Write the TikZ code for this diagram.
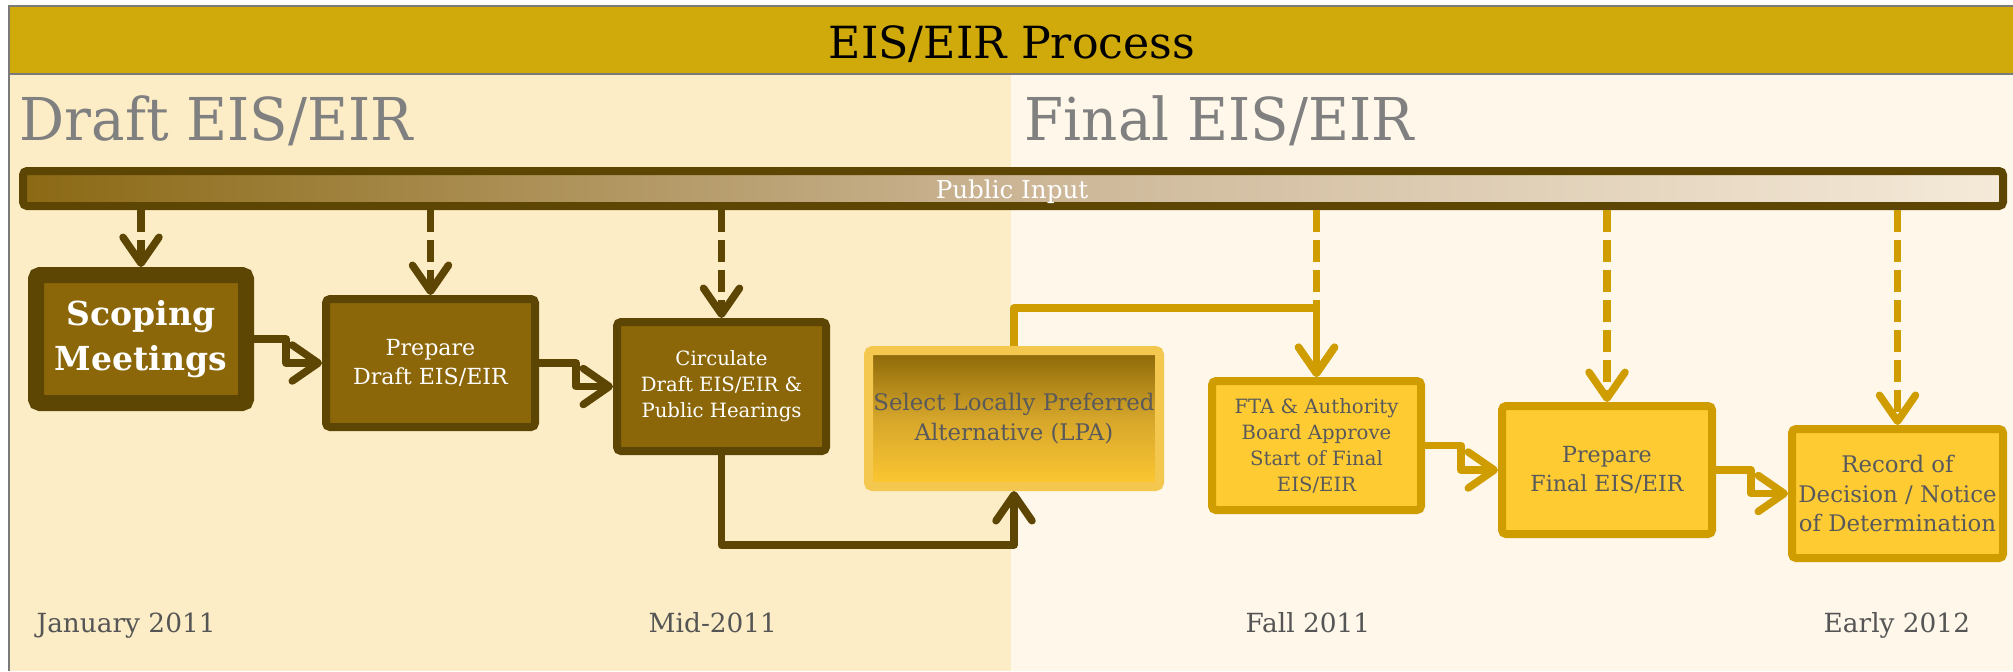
\documentclass[tikz,border=0pt]{standalone}
\usepackage{fontspec}
\setmainfont{DejaVu Serif}
\newfontfamily\headfont[FakeStretch=0.953]{DejaVu Serif}
\usetikzlibrary{arrows.meta}
\definecolor{titlegold}{HTML}{D0A90A}
\definecolor{draftbg}{HTML}{FCEDC7}
\definecolor{finalbg}{HTML}{FFF8EA}
\definecolor{dkline}{HTML}{5D4604}
\definecolor{dkfill}{HTML}{8B6709}
\definecolor{gdline}{HTML}{CF9D00}
\definecolor{gdfill}{HTML}{FFCB33}
\definecolor{lpaline}{HTML}{F4C84E}
\definecolor{boxtext}{HTML}{58595B}
\definecolor{headgray}{HTML}{808080}
\definecolor{dategray}{HTML}{555555}
\definecolor{framegray}{HTML}{7A7A7A}
\definecolor{barleft}{HTML}{8B6914}
\definecolor{barmid}{HTML}{CBB595}
\definecolor{barright}{HTML}{F5EAD9}
\definecolor{lpatop}{HTML}{8B6708}
\definecolor{lpamid}{HTML}{D6A62B}
\definecolor{lpabot}{HTML}{FDC832}
\begin{document}
\begin{tikzpicture}[x=0.1mm,y=-0.1mm]
\tikzset{
  lnk/.style={line width=0.75mm, line join=round, -{Straight Barb[length=2.6mm,width=3.6mm,round]}},
  dsh/.style={dash pattern=on 2.2mm off 0.8mm},
  anybox/.style={line width=0.8mm, rounded corners=0.4mm, align=center, inner sep=0pt,
    font=\fontsize{6.3pt}{8.5pt}\selectfont},
  smalltext/.style={font=\fontsize{5.6pt}{7.4pt}\selectfont},
  dkbox/.style={anybox, draw=dkline, fill=dkfill, text=white},
  gdbox/.style={anybox, draw=gdline, fill=gdfill, text=boxtext},
  datelbl/.style={anchor=base west, text=dategray, font=\fontsize{7.5pt}{9pt}\selectfont, inner sep=0pt},
  headlbl/.style={anchor=base west, text=headgray, font=\headfont\fontsize{16.8pt}{20pt}\selectfont, inner sep=0pt},
}
\useasboundingbox (0,0) rectangle (2013,671);
% backgrounds
\fill[draftbg] (9,74) rectangle (1011,671);
\fill[finalbg] (1011,74) rectangle (2013,671);
\fill[titlegold] (9,6) rectangle (2013,74);
\draw[framegray, line width=0.2mm] (2013,6) -- (9,6) -- (9,671);
\draw[framegray, line width=0.2mm] (9,74) -- (2013,74);
% title and headings
\node[anchor=base, inner sep=0pt, font=\fontsize{12.6pt}{15pt}\selectfont] (title) at (1012,58) {EIS/EIR Process};
\node[headlbl] (hdraft) at (19,140) {Draft EIS/EIR};
\node[headlbl] (hfinal) at (1024,140) {Final EIS/EIR};
% public input bar
\node[draw=dkline, line width=0.8mm, rounded corners=0.4mm, inner sep=0pt,
  left color=barleft, right color=barright, middle color=barmid,
  minimum width=198mm, minimum height=3.5mm] (bar) at (1013,188.5) {};
\node[anchor=base, inner sep=0pt, text=white, font=\fontsize{7pt}{8pt}\selectfont] (pi) at (1012,198) {Public Input};
% boxes
\node[dkbox, line width=1.6mm, minimum width=21mm, minimum height=12.8mm,
  font=\bfseries\fontsize{9.4pt}{12.8pt}\selectfont] (sc) at (141,339) {Scoping\\Meetings};
\node[dkbox, minimum width=20.9mm, minimum height=12.8mm] (pd) at (430.5,363) {Prepare\\Draft EIS/EIR};
\node[dkbox, smalltext, minimum width=20.9mm, minimum height=12.9mm] (ci) at (721.5,386.5) {Circulate\\Draft EIS/EIR \&\\Public Hearings};
\node[anybox, draw=lpaline, line width=0.9mm, text=boxtext,
  top color=lpatop, bottom color=lpabot, middle color=lpamid,
  font=\fontsize{6.5pt}{8.5pt}\selectfont,
  minimum width=29.1mm, minimum height=13.6mm] (lpa) at (1014,418.5) {Select Locally Preferred\\Alternative (LPA)};
\node[gdbox, smalltext, minimum width=20.9mm, minimum height=12.9mm] (fta) at (1316.5,445.5) {FTA \& Authority\\Board Approve\\Start of Final\\EIS/EIR};
\node[gdbox, minimum width=21mm, minimum height=12.8mm] (pf) at (1607,470) {Prepare\\Final EIS/EIR};
\node[gdbox, font=\fontsize{6.5pt}{8.5pt}\selectfont, minimum width=21.1mm, minimum height=12.9mm] (rec) at (1897.5,493.5) {Record of\\Decision / Notice\\of Determination};
% dashed input arrows
\draw[lnk, dsh, dkline] (bar.south -| sc.north) -- (sc.north);
\draw[lnk, dsh, dkline] (bar.south -| pd.north) -- (pd.north);
\draw[lnk, dsh, dkline] (bar.south -| ci.north) -- (ci.north);
\draw[lnk, dsh, gdline] (bar.south -| fta.north) -- (fta.north);
\draw[lnk, dsh, gdline] (bar.south -| pf.north) -- (pf.north);
\draw[lnk, dsh, gdline] (bar.south -| rec.north) -- (rec.north);
% flow connectors
\draw[lnk, dkline] (sc.east) -- ++(32,0) |- (pd.west);
\draw[lnk, dkline] (pd.east) -- ++(37,0) |- (ci.west);
\draw[lnk, dkline] (ci.south) -- ++(0,90) -| (lpa.south);
\draw[lnk, gdline] (lpa.north) -- ++(0,-38) -| (fta.north);
\draw[lnk, gdline] (fta.east) -- ++(36,0) |- (pf.west);
\draw[lnk, gdline] (pf.east) -- ++(35,0) |- (rec.west);
% dates
\node[datelbl] (d1) at (36,632) {January 2011};
\node[datelbl] (d2) at (648,632) {Mid-2011};
\node[datelbl] (d3) at (1245,632) {Fall 2011};
\node[datelbl] (d4) at (1823,632) {Early 2012};
\end{tikzpicture}
\end{document}
